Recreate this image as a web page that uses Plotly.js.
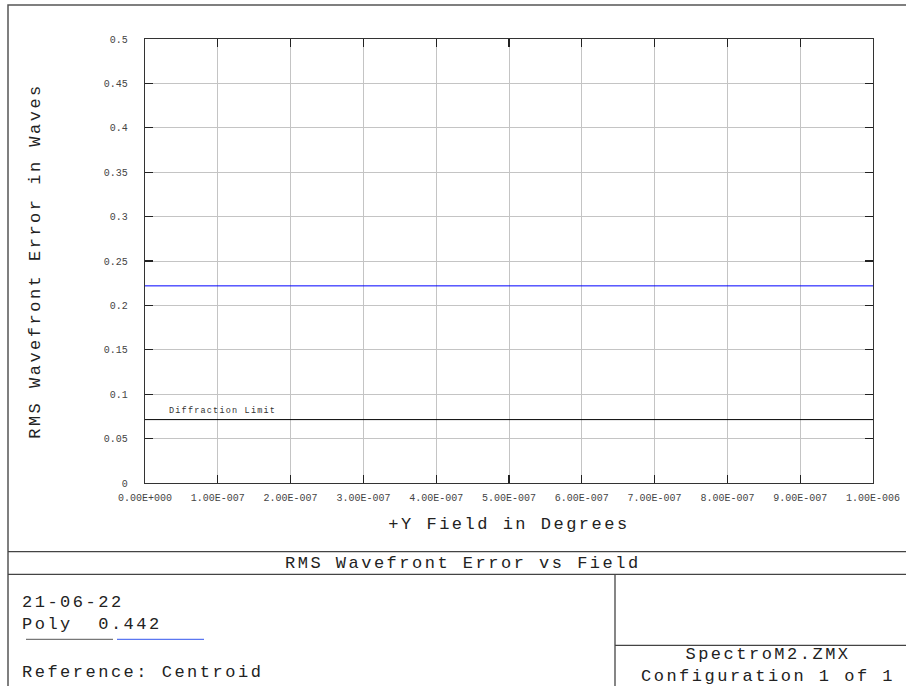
<!DOCTYPE html>
<html>
<head>
<meta charset="utf-8">
<script src="https://cdn.plot.ly/plotly-3.0.1.min.js"></script>
<style>html,body{margin:0;padding:0;background:#fff;}#chart{width:906px;height:686px;}</style>
</head>
<body>
<div id="chart"></div>
<script>
// ---- data ----
const fieldDeg = [0, 1e-7, 2e-7, 3e-7, 4e-7, 5e-7, 6e-7, 7e-7, 8e-7, 9e-7, 1e-6];
const rmsPoly = [0.222, 0.222, 0.222, 0.222, 0.222, 0.222, 0.222, 0.222, 0.222, 0.222, 0.222];
const diffractionLimit = [0.0714, 0.0714, 0.0714, 0.0714, 0.0714, 0.0714, 0.0714, 0.0714, 0.0714, 0.0714, 0.0714];
const xTickVals = [0, 1e-7, 2e-7, 3e-7, 4e-7, 5e-7, 6e-7, 7e-7, 8e-7, 9e-7, 1e-6];
const xTickText = ["0.00E+000", "1.00E-007", "2.00E-007", "3.00E-007", "4.00E-007", "5.00E-007",
                   "6.00E-007", "7.00E-007", "8.00E-007", "9.00E-007", "1.00E-006"];
const yTickVals = [0, 0.05, 0.1, 0.15, 0.2, 0.25, 0.3, 0.35, 0.4, 0.45, 0.5];
const yTickText = ["0", "0.05", "0.1", "0.15", "0.2", "0.25", "0.3", "0.35", "0.4", "0.45", "0.5"];

const FONT = "Liberation Mono, Courier New, monospace";
const L = 145, R = 873, T = 39, B = 483;
const W = R - L, H = B - T;
const px = x => (x - L) / W;
const py = y => (B - y) / H;
const frameColor = "#444";
const wide = (s, sp) => '<span style="letter-spacing:' + sp + 'px">' + s + '</span>';

function hline(y, x0, x1, color, width) {
  return {type: "line", xref: "paper", yref: "paper", x0: px(x0), x1: px(x1), y0: py(y), y1: py(y),
          line: {color: color || frameColor, width: width || 1.3}};
}
function vline(x, y0, y1, color, width) {
  return {type: "line", xref: "paper", yref: "paper", x0: px(x), x1: px(x), y0: py(y0), y1: py(y1),
          line: {color: color || frameColor, width: width || 1.3}};
}
function ann(text, x, y, size, xanchor, color, align) {
  return {text: text, xref: "paper", yref: "paper", x: px(x), y: py(y), xanchor: xanchor || "left",
          yanchor: "middle", align: align || xanchor || "left", showarrow: false,
          font: {family: FONT, size: size, color: color || "#222"}};
}

const traces = [
  {x: fieldDeg, y: rmsPoly, type: "scatter", mode: "lines", line: {color: "#0000ff", width: 1}, hoverinfo: "skip"},
  {x: fieldDeg, y: diffractionLimit, type: "scatter", mode: "lines", line: {color: "#000", width: 1}, hoverinfo: "skip"}
];

const BIG = 17, SP = 2.5;

const layout = {
  width: 906, height: 686,
  margin: {l: L, r: 906 - R, t: T, b: 686 - B, pad: 0},
  paper_bgcolor: "#fff", plot_bgcolor: "#fff",
  showlegend: false,
  font: {family: FONT},
  xaxis: {
    range: [0, 1e-6], tickvals: xTickVals, ticktext: xTickText,
    ticks: "inside", ticklen: 8, tickcolor: "#222", tickwidth: 1.3,
    showline: true, linecolor: "#333", linewidth: 1.3, mirror: "ticks",
    showgrid: true, gridcolor: "#c4c4c4", gridwidth: 1, zeroline: false,
    tickfont: {family: FONT, size: 10, color: "#444"},
    ticklabelstandoff: 5,
    title: {text: wide("+Y Field in Degrees", SP), font: {family: FONT, size: BIG, color: "#222"}, standoff: 13},
    fixedrange: true
  },
  yaxis: {
    range: [0, 0.5], tickvals: yTickVals, ticktext: yTickText,
    ticks: "inside", ticklen: 8, tickcolor: "#222", tickwidth: 1.3,
    showline: true, linecolor: "#333", linewidth: 1.3, mirror: "ticks",
    showgrid: true, gridcolor: "#c4c4c4", gridwidth: 1, zeroline: false,
    tickfont: {family: FONT, size: 10, color: "#444"},
    ticklabelstandoff: 14,
    title: {text: wide("RMS Wavefront Error in Waves", SP), font: {family: FONT, size: BIG, color: "#222"}, standoff: 58},
    fixedrange: true
  },
  shapes: [
    // outer frame
    {type: "rect", xref: "paper", yref: "paper", x0: px(8), x1: px(912), y0: py(5), y1: py(692),
     line: {color: "#555", width: 1.5}},
    hline(551.7, 8, 912),
    hline(574.3, 8, 912),
    vline(615, 574.3, 692),
    hline(645.3, 615, 912),
    // legend swatches
    hline(639.3, 26, 113, "#555", 1),
    hline(639.3, 117, 204, "#3355ee", 1)
  ],
  annotations: [
    ann(wide("Diffraction Limit", 1.2), 167, 410.5, 8.5, "left", "#333"),
    ann(wide("RMS Wavefront Error vs Field", SP), 463, 563, BIG, "center"),
    ann(wide("21-06-22", SP) + "<br>" + wide("Poly  0.442", SP), 20, 613.5, BIG, "left"),
    ann(wide("Reference: Centroid", SP), 20, 672.5, BIG, "left"),
    ann(wide("SpectroM2.ZMX", SP) + "<br>" + wide("Configuration 1 of 1", SP), 768, 665.5, BIG, "center")
  ]
};

Plotly.newPlot("chart", traces, layout, {staticPlot: true, displayModeBar: false});
</script>
</body>
</html>
